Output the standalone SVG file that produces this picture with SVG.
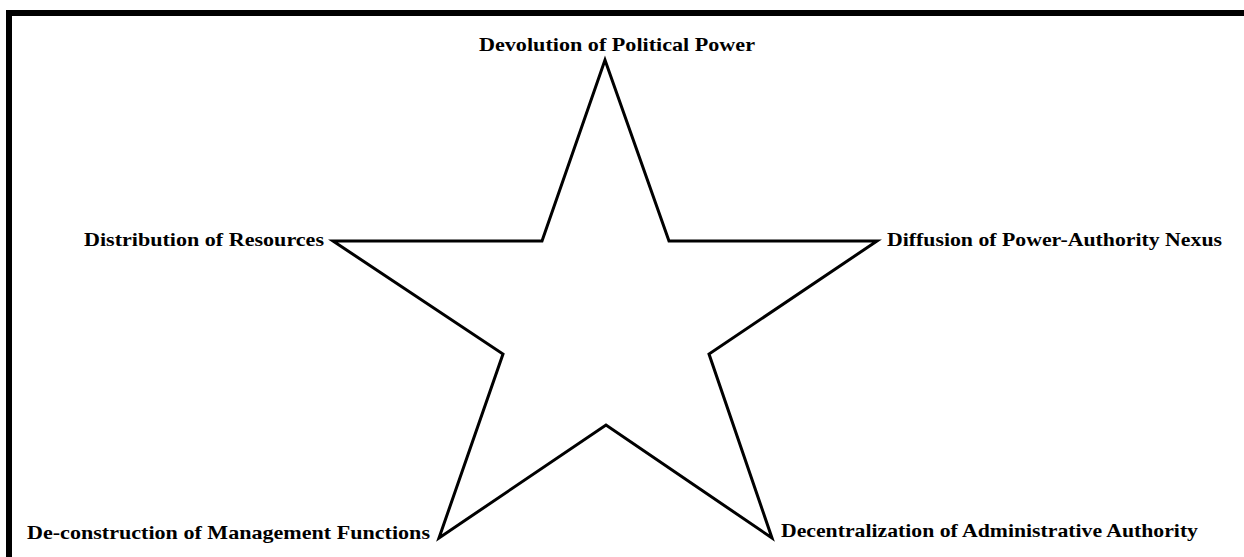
<svg xmlns="http://www.w3.org/2000/svg" width="1244" height="557" viewBox="0 0 1244 557">
<style>
.lbl{font-family:"Liberation Serif","Times New Roman",serif;font-weight:bold;font-size:19px;fill:#000}
.star{fill:#fff;stroke:#000;stroke-width:3;stroke-linejoin:miter}
</style>
<rect x="0" y="0" width="1244" height="557" fill="#fff"/>
<rect id="frame" x="9" y="13" width="1300" height="600" fill="none" stroke="#000" stroke-width="6"/>
<g id="connectors">
<polygon class="star" points="605,60 542,241 333,241 503,354 439,538 606,425 772,538 709,354 877,241 669,241"/>
</g>
<g id="n-top"><text class="lbl" x="479" y="51" textLength="276" lengthAdjust="spacingAndGlyphs">Devolution of Political Power</text></g>
<g id="n-left"><text class="lbl" x="84" y="246" textLength="240" lengthAdjust="spacingAndGlyphs">Distribution of Resources</text></g>
<g id="n-right"><text class="lbl" x="887" y="246" textLength="335" lengthAdjust="spacingAndGlyphs">Diffusion of Power-Authority Nexus</text></g>
<g id="n-bl"><text class="lbl" x="27" y="539" textLength="403" lengthAdjust="spacingAndGlyphs">De-construction of Management Functions</text></g>
<g id="n-br"><text class="lbl" x="781" y="537" textLength="417" lengthAdjust="spacingAndGlyphs">Decentralization of Administrative Authority</text></g>
</svg>
